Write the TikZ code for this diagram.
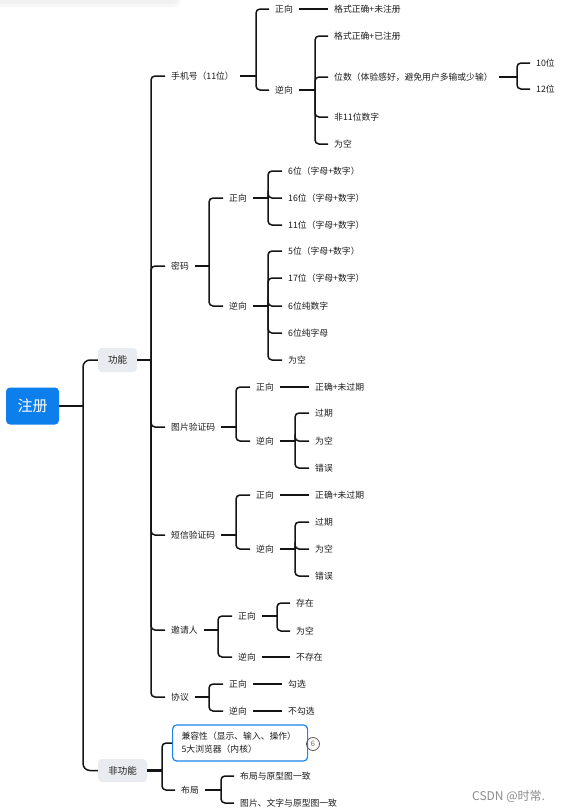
\documentclass[tikz,border=0pt]{standalone}
\usepackage{fontspec}
\setmainfont{Noto Sans CJK SC}
\definecolor{rootblue}{RGB}{12,127,236}
\definecolor{boxgray}{RGB}{232,235,239}
\definecolor{txt}{RGB}{28,28,28}
\definecolor{compblue}{RGB}{30,132,236}
\definecolor{linec}{RGB}{20,20,20}
\tikzset{
  lbl/.style={anchor=west, inner xsep=6pt, inner ysep=1pt, font=\fontsize{8.8}{10}\selectfont, text=txt},
  conn/.style={draw=linec, line width=1.5pt, rounded corners=4pt},
  stub/.style={draw=linec, line width=2.3pt},
  plain/.style={draw=linec, line width=1.3pt},
  gbox/.style={fill=boxgray, rounded corners=4pt, inner sep=0pt, font=\fontsize{9.5}{10}\selectfont, text=txt},
  rootbox/.style={fill=rootblue, rounded corners=4pt, inner sep=0pt, minimum width=53pt, minimum height=37pt, text=white, font=\fontsize{15}{16}\selectfont},
  compbox/.style={draw=compblue, line width=1.2pt, rounded corners=4pt, anchor=west, minimum height=36pt, text width=117pt, inner xsep=9pt, align=left, font=\fontsize{8.8}{13}\selectfont, text=txt},
}
\begin{document}
\begin{tikzpicture}[x=1pt,y=-1pt]
\useasboundingbox (0,0) rectangle (565,812);
\fill[white] (0,0) rectangle (565,812);
% faint shadow top-left
\fill[black!3, rounded corners=6pt] (-10,-10) rectangle (180,7);
\fill[black!5, rounded corners=5pt] (-10,-10) rectangle (178,4);

% ---------- nodes ----------
\node[rootbox] (root) at (32.5,406) {注册};
\node[gbox, minimum width=39pt, minimum height=24pt] (gn) at (117.5,360) {功能};
\node[gbox, minimum width=49pt, minimum height=23pt] (fgn) at (122.5,770.5) {非功能};

% level 2
\node[lbl] (sj) at (165,76) {手机号（11位）};
\node[lbl] (mm) at (165,266) {密码};
\node[lbl] (tp) at (165,427) {图片验证码};
\node[lbl] (dx) at (165,535) {短信验证码};
\node[lbl] (yq) at (165,630) {邀请人};
\node[lbl] (xy) at (165,697) {协议};

% phone
\node[lbl] (sjz) at (269,9) {正向};
\node[lbl] (sjn) at (269,90) {逆向};
\node[lbl] (sjz1) at (328,9) {格式正确+未注册};
\node[lbl] (sjn1) at (328,36) {格式正确+已注册};
\node[lbl] (sjn2) at (328,77) {位数（体验感好，避免用户多输或少输）};
\node[lbl] (sjn3) at (328,117) {非11位数字};
\node[lbl] (sjn4) at (328,144) {为空};
\node[lbl] (sjn21) at (530,63) {10位};
\node[lbl] (sjn22) at (530,89) {12位};

% password
\node[lbl] (mmz) at (223,198) {正向};
\node[lbl] (mmn) at (223,306) {逆向};
\node[lbl] (mmz1) at (282,171) {6位（字母+数字）};
\node[lbl] (mmz2) at (282,198) {16位（字母+数字）};
\node[lbl] (mmz3) at (282,225) {11位（字母+数字）};
\node[lbl] (mmn1) at (282,251) {5位（字母+数字）};
\node[lbl] (mmn2) at (282,278) {17位（字母+数字）};
\node[lbl] (mmn3) at (282,306) {6位纯数字};
\node[lbl] (mmn4) at (282,333) {6位纯字母};
\node[lbl] (mmn5) at (282,360) {为空};

% picture code
\node[lbl] (tpz) at (250,387) {正向};
\node[lbl] (tpn) at (250,441) {逆向};
\node[lbl] (tpz1) at (309,387) {正确+未过期};
\node[lbl] (tpn1) at (309,413) {过期};
\node[lbl] (tpn2) at (309,441) {为空};
\node[lbl] (tpn3) at (309,468) {错误};

% sms code
\node[lbl] (dxz) at (250,495) {正向};
\node[lbl] (dxn) at (250,549) {逆向};
\node[lbl] (dxz1) at (309,495) {正确+未过期};
\node[lbl] (dxn1) at (309,522) {过期};
\node[lbl] (dxn2) at (309,549) {为空};
\node[lbl] (dxn3) at (309,576) {错误};

% inviter
\node[lbl] (yqz) at (232,616) {正向};
\node[lbl] (yqn) at (232,657) {逆向};
\node[lbl] (yqz1) at (290,603) {存在};
\node[lbl] (yqz2) at (290,631) {为空};
\node[lbl] (yqn1) at (290,657) {不存在};

% agreement
\node[lbl] (xyz) at (223,684) {正向};
\node[lbl] (xyn) at (223,711) {逆向};
\node[lbl] (xyz1) at (282,684) {勾选};
\node[lbl] (xyn1) at (282,711) {不勾选};

% non-functional
\node[compbox] (jr) at (172,743) {兼容性（显示、输入、操作）\\5大浏览器（内核）};
\node[circle, draw=black!65, line width=0.8pt, minimum size=13pt, inner sep=0pt, font=\fontsize{7.5}{7.5}\selectfont, text=black!60] (cnt) at (313,744) {6};
\node[lbl] (bj) at (175,790) {布局};
\node[lbl] (bj1) at (234,776) {布局与原型图一致};
\node[lbl] (bj2) at (234,803) {图片、文字与原型图一致};

\node[anchor=west, inner sep=0pt, text=black!45, font=\fontsize{12}{12}\selectfont] (wm) at (472,796) {CSDN @时常.};

% ---------- connectors ----------
% root
\coordinate (rb) at (83,406);
\draw[stub] (root.east) -- (rb);
\draw[conn, rounded corners=7pt] (rb) |- (gn.west);
\draw[conn, rounded corners=7pt] (rb) |- (fgn.west);

% functional trunk
\coordinate (gnb) at (151,360);
\draw[stub] (gn.east) -- (gnb);
\foreach \c in {sj,mm,tp,dx,yq,xy} \draw[conn] (gnb) |- (\c.west);

% phone
\coordinate (sjb) at (256,76);
\draw[stub] (sj.east) -- (sjb);
\foreach \c in {sjz,sjn} \draw[conn] (sjb) |- (\c.west);
\draw[plain] (sjz.east) -- (sjz1.west);
\coordinate (sjnb) at (315,90);
\draw[stub] (sjn.east) -- (sjnb);
\foreach \c in {sjn1,sjn2,sjn3,sjn4} \draw[conn] (sjnb) |- (\c.west);
\coordinate (sjn2b) at (517,77);
\draw[stub] (sjn2.east) -- (sjn2b);
\foreach \c in {sjn21,sjn22} \draw[conn] (sjn2b) |- (\c.west);

% password
\coordinate (mmb) at (209,266);
\draw[stub] (mm.east) -- (mmb);
\foreach \c in {mmz,mmn} \draw[conn] (mmb) |- (\c.west);
\coordinate (mmzb) at (268,198);
\draw[stub] (mmz.east) -- (mmzb);
\foreach \c in {mmz1,mmz2,mmz3} \draw[conn] (mmzb) |- (\c.west);
\coordinate (mmnb) at (268,306);
\draw[stub] (mmn.east) -- (mmnb);
\foreach \c in {mmn1,mmn2,mmn3,mmn4,mmn5} \draw[conn] (mmnb) |- (\c.west);

% picture code
\coordinate (tpb) at (236,427);
\draw[stub] (tp.east) -- (tpb);
\foreach \c in {tpz,tpn} \draw[conn] (tpb) |- (\c.west);
\draw[plain] (tpz.east) -- (tpz1.west);
\coordinate (tpnb) at (295,441);
\draw[stub] (tpn.east) -- (tpnb);
\foreach \c in {tpn1,tpn2,tpn3} \draw[conn] (tpnb) |- (\c.west);

% sms code
\coordinate (dxb) at (236,535);
\draw[stub] (dx.east) -- (dxb);
\foreach \c in {dxz,dxn} \draw[conn] (dxb) |- (\c.west);
\draw[plain] (dxz.east) -- (dxz1.west);
\coordinate (dxnb) at (295,549);
\draw[stub] (dxn.east) -- (dxnb);
\foreach \c in {dxn1,dxn2,dxn3} \draw[conn] (dxnb) |- (\c.west);

% inviter
\coordinate (yqb) at (218,630);
\draw[stub] (yq.east) -- (yqb);
\foreach \c in {yqz,yqn} \draw[conn] (yqb) |- (\c.west);
\coordinate (yqzb) at (277,616);
\draw[stub] (yqz.east) -- (yqzb);
\foreach \c in {yqz1,yqz2} \draw[conn] (yqzb) |- (\c.west);
\draw[plain] (yqn.east) -- (yqn1.west);

% agreement
\coordinate (xyb) at (209,697);
\draw[stub] (xy.east) -- (xyb);
\foreach \c in {xyz,xyn} \draw[conn] (xyb) |- (\c.west);
\draw[plain] (xyz.east) -- (xyz1.west);
\draw[plain] (xyn.east) -- (xyn1.west);

% non-functional
\coordinate (fgnb) at (162,770.5);
\draw[stub] (fgn.east) -- (fgnb);
\foreach \c in {jr,bj} \draw[conn] (fgnb) |- (\c.west);
\coordinate (bjb) at (221,790);
\draw[stub] (bj.east) -- (bjb);
\foreach \c in {bj1,bj2} \draw[conn] (bjb) |- (\c.west);
\end{tikzpicture}
\end{document}
